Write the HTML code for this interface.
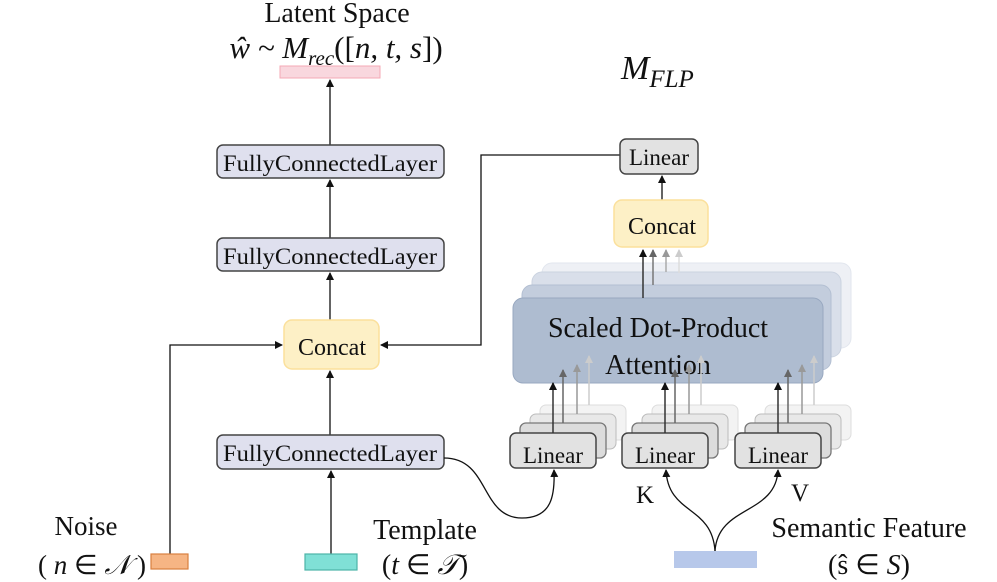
<!DOCTYPE html>
<html><head><meta charset="utf-8"><style>
html,body{margin:0;padding:0;background:#fff;}
svg{display:block;}
text{font-family:"Liberation Serif",serif;fill:#111;}
</style></head><body>
<svg width="997" height="582" viewBox="0 0 997 582" xmlns="http://www.w3.org/2000/svg">
<defs>
<marker id="a" markerWidth="8" markerHeight="8" refX="7" refY="4" orient="auto" markerUnits="userSpaceOnUse"><path d="M0,0 L8,4 L0,8 z" fill="#111"/></marker>
<marker id="g1" markerWidth="8" markerHeight="8" refX="7" refY="4" orient="auto" markerUnits="userSpaceOnUse"><path d="M0,0 L8,4 L0,8 z" fill="#666"/></marker>
<marker id="g2" markerWidth="8" markerHeight="8" refX="7" refY="4" orient="auto" markerUnits="userSpaceOnUse"><path d="M0,0 L8,4 L0,8 z" fill="#999"/></marker>
<marker id="g3" markerWidth="8" markerHeight="8" refX="7" refY="4" orient="auto" markerUnits="userSpaceOnUse"><path d="M0,0 L8,4 L0,8 z" fill="#ccc"/></marker>
</defs>

<!-- titles -->
<text x="337" y="22" font-size="28" text-anchor="middle">Latent Space</text>
<text x="336" y="58" font-size="31" text-anchor="middle" font-style="italic">ŵ ~ M<tspan font-size="21" dy="7">rec</tspan><tspan dy="-7" font-style="normal">([</tspan>n, t, s<tspan font-style="normal">])</tspan></text>
<rect x="280" y="66" width="100" height="12" fill="#f9d7de" stroke="#f4a9b6"/>
<text x="621" y="79" font-size="34" font-style="italic">M<tspan font-size="25" dy="8">FLP</tspan></text>

<!-- left column -->
<line x1="330" y1="145" x2="330" y2="80" stroke="#111" stroke-width="1.3" marker-end="url(#a)"/>
<rect x="217" y="145" width="227" height="33" rx="6" fill="#dfe0ee" stroke="#444" stroke-width="1.5"/>
<text x="330" y="171" font-size="23" text-anchor="middle" textLength="214" lengthAdjust="spacingAndGlyphs">FullyConnectedLayer</text>
<line x1="330" y1="238" x2="330" y2="180" stroke="#111" stroke-width="1.3" marker-end="url(#a)"/>
<rect x="217" y="238" width="227" height="33" rx="6" fill="#dfe0ee" stroke="#444" stroke-width="1.5"/>
<text x="330" y="264" font-size="23" text-anchor="middle" textLength="214" lengthAdjust="spacingAndGlyphs">FullyConnectedLayer</text>
<line x1="330" y1="320" x2="330" y2="273" stroke="#111" stroke-width="1.3" marker-end="url(#a)"/>
<rect x="284" y="320" width="95" height="49" rx="8" fill="#fdf0c6" stroke="#fbe09c" stroke-width="1.5"/>
<text x="332" y="355" font-size="24" text-anchor="middle">Concat</text>
<line x1="330" y1="435" x2="330" y2="371" stroke="#111" stroke-width="1.3" marker-end="url(#a)"/>
<rect x="217" y="435" width="227" height="34" rx="6" fill="#dfe0ee" stroke="#444" stroke-width="1.5"/>
<text x="330" y="461" font-size="23" text-anchor="middle" textLength="214" lengthAdjust="spacingAndGlyphs">FullyConnectedLayer</text>
<line x1="331" y1="554" x2="331" y2="471" stroke="#111" stroke-width="1.3" marker-end="url(#a)"/>
<polyline points="170,554 170,345 282,345" fill="none" stroke="#111" stroke-width="1.3" marker-end="url(#a)"/>
<polyline points="620,155 481,155 481,345 381,345" fill="none" stroke="#111" stroke-width="1.3" marker-end="url(#a)"/>

<!-- inputs -->
<rect x="151" y="554" width="37" height="15" fill="#f6b584" stroke="#d9803f" stroke-width="1.2"/>
<rect x="305" y="554" width="52" height="16" fill="#80e0d6" stroke="#4db3a8" stroke-width="1.2"/>
<rect x="674" y="551" width="83" height="17" fill="#b7c8ea"/>
<text x="86" y="535" font-size="27" text-anchor="middle">Noise</text>
<text x="92" y="574" font-size="27" text-anchor="middle">( <tspan font-style="italic">n</tspan> ∈ <tspan font-style="italic">𝒩</tspan> )</text>
<text x="425" y="539" font-size="28" text-anchor="middle">Template</text>
<text x="425" y="574" font-size="28" text-anchor="middle">(<tspan font-style="italic">t</tspan> ∈ <tspan font-style="italic">𝒯</tspan>)</text>
<text x="869" y="537" font-size="28" text-anchor="middle">Semantic Feature</text>
<text x="869" y="574" font-size="28" text-anchor="middle">(ŝ ∈ <tspan font-style="italic">S</tspan>)</text>
<text x="645" y="503" font-size="25" text-anchor="middle">K</text>
<text x="800" y="501" font-size="25" text-anchor="middle">V</text>

<!-- right top -->
<rect x="620" y="139" width="78" height="35" rx="6" fill="#e2e2e2" stroke="#444" stroke-width="1.5"/>
<text x="659" y="165" font-size="23" text-anchor="middle">Linear</text>
<line x1="662" y1="200" x2="662" y2="176" stroke="#111" stroke-width="1.3" marker-end="url(#a)"/>
<rect x="614" y="200" width="94" height="47" rx="8" fill="#fdf0c6" stroke="#fbe09c" stroke-width="1.5"/>
<text x="662" y="234" font-size="24" text-anchor="middle">Concat</text>

<!-- attention stacks -->
<rect x="542" y="263" width="309" height="85" rx="10" fill="#eef0f5" stroke="#e2e6ee"/>
<rect x="532" y="272" width="309" height="85" rx="10" fill="#d9dfea" stroke="#cbd3e0"/>
<rect x="522" y="285" width="309" height="85" rx="10" fill="#c3cddd" stroke="#b3bfd2"/>
<rect x="513" y="298" width="310" height="85" rx="10" fill="#aebcd0" stroke="#98a8c0"/>
<text x="658" y="337" font-size="28" text-anchor="middle">Scaled Dot-Product</text>
<text x="658" y="374" font-size="28" text-anchor="middle">Attention</text>
<line x1="679" y1="273" x2="679" y2="250" stroke="#ddd" stroke-width="1.5" marker-end="url(#g3)"/>
<line x1="666" y1="272" x2="666" y2="250" stroke="#aaa" stroke-width="1.5" marker-end="url(#g2)"/>
<line x1="653" y1="285" x2="653" y2="250" stroke="#777" stroke-width="1.5" marker-end="url(#g1)"/>
<line x1="643" y1="298" x2="643" y2="250" stroke="#333" stroke-width="1.5" marker-end="url(#a)"/>

<!-- linear stacks -->
<g>
<rect x="540" y="405" width="86" height="35" rx="6" fill="#f3f3f3" stroke="#ddd"/>
<rect x="530" y="414" width="86" height="35" rx="6" fill="#e8e8e8" stroke="#bbb"/>
<rect x="520" y="423" width="86" height="35" rx="6" fill="#dcdcdc" stroke="#777" stroke-width="1.3"/>
<rect x="510" y="433" width="86" height="35" rx="6" fill="#e2e2e2" stroke="#444" stroke-width="1.5"/>
<text x="553" y="463" font-size="23" text-anchor="middle">Linear</text>
<line x1="589" y1="405" x2="589" y2="356" stroke="#ccc" stroke-width="1.5" marker-end="url(#g3)"/>
<line x1="577" y1="414" x2="577" y2="365" stroke="#999" stroke-width="1.5" marker-end="url(#g2)"/>
<line x1="563" y1="423" x2="563" y2="370" stroke="#666" stroke-width="1.5" marker-end="url(#g1)"/>
<line x1="553" y1="433" x2="553" y2="383" stroke="#333" stroke-width="1.5" marker-end="url(#a)"/>
</g>
<g transform="translate(112,0)">
<rect x="540" y="405" width="86" height="35" rx="6" fill="#f3f3f3" stroke="#ddd"/>
<rect x="530" y="414" width="86" height="35" rx="6" fill="#e8e8e8" stroke="#bbb"/>
<rect x="520" y="423" width="86" height="35" rx="6" fill="#dcdcdc" stroke="#777" stroke-width="1.3"/>
<rect x="510" y="433" width="86" height="35" rx="6" fill="#e2e2e2" stroke="#444" stroke-width="1.5"/>
<text x="553" y="463" font-size="23" text-anchor="middle">Linear</text>
<line x1="589" y1="405" x2="589" y2="356" stroke="#ccc" stroke-width="1.5" marker-end="url(#g3)"/>
<line x1="577" y1="414" x2="577" y2="365" stroke="#999" stroke-width="1.5" marker-end="url(#g2)"/>
<line x1="563" y1="423" x2="563" y2="370" stroke="#666" stroke-width="1.5" marker-end="url(#g1)"/>
<line x1="553" y1="433" x2="553" y2="383" stroke="#333" stroke-width="1.5" marker-end="url(#a)"/>
</g>
<g transform="translate(225,0)">
<rect x="540" y="405" width="86" height="35" rx="6" fill="#f3f3f3" stroke="#ddd"/>
<rect x="530" y="414" width="86" height="35" rx="6" fill="#e8e8e8" stroke="#bbb"/>
<rect x="520" y="423" width="86" height="35" rx="6" fill="#dcdcdc" stroke="#777" stroke-width="1.3"/>
<rect x="510" y="433" width="86" height="35" rx="6" fill="#e2e2e2" stroke="#444" stroke-width="1.5"/>
<text x="553" y="463" font-size="23" text-anchor="middle">Linear</text>
<line x1="589" y1="405" x2="589" y2="356" stroke="#ccc" stroke-width="1.5" marker-end="url(#g3)"/>
<line x1="577" y1="414" x2="577" y2="365" stroke="#999" stroke-width="1.5" marker-end="url(#g2)"/>
<line x1="563" y1="423" x2="563" y2="370" stroke="#666" stroke-width="1.5" marker-end="url(#g1)"/>
<line x1="553" y1="433" x2="553" y2="383" stroke="#333" stroke-width="1.5" marker-end="url(#a)"/>
</g>

<!-- curves -->
<path d="M444,458 C490,458 480,518 522,518 C552,518 555,495 554,470" fill="none" stroke="#111" stroke-width="1.3" marker-end="url(#a)"/>
<path d="M715,551 C712,505 668,515 666,470" fill="none" stroke="#111" stroke-width="1.3" marker-end="url(#a)"/>
<path d="M715,551 C718,505 776,515 778,470" fill="none" stroke="#111" stroke-width="1.3" marker-end="url(#a)"/>
</svg>
</body></html>
